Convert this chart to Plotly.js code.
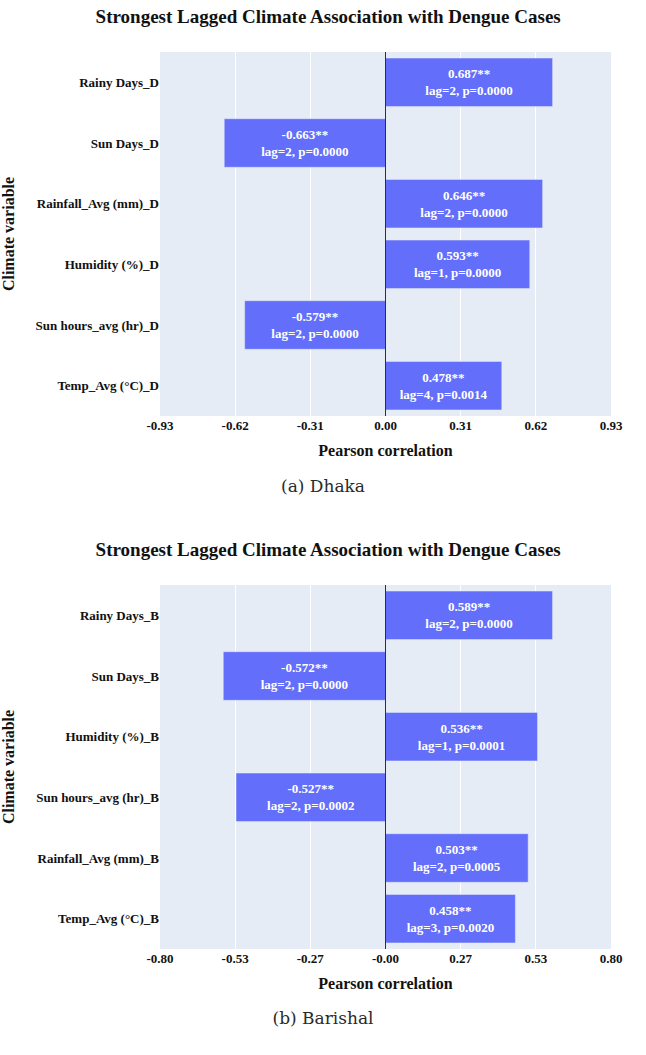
<!DOCTYPE html>
<html>
<head>
<meta charset="utf-8">
<script src="https://cdn.plot.ly/plotly-3.0.1.min.js"></script>
<style>
  html, body { margin: 0; padding: 0; background: #fff; width: 646px; height: 1055px; overflow: hidden; }
  .panel { position: absolute; left: 0; width: 646px; height: 470px; }
  .caption { position: absolute; left: 0; width: 646px; text-align: center;
             font-family: "DejaVu Serif", "Liberation Serif", serif; font-size: 17px; color: #2a2a2a; }
</style>
</head>
<body>
<div id="dhaka" class="panel" style="top:0px"></div>
<div class="caption" style="top:476px">(a) Dhaka</div>
<div id="barishal" class="panel" style="top:533px"></div>
<div class="caption" style="top:1008px">(b) Barishal</div>

<script>
// Dhaka: strongest lagged correlation per climate variable
const dhakaVars = ["Rainy Days_D", "Sun Days_D", "Rainfall_Avg (mm)_D", "Humidity (%)_D", "Sun hours_avg (hr)_D", "Temp_Avg (°C)_D"];
const dhakaR    = [0.687, -0.663, 0.646, 0.593, -0.579, 0.478];
const dhakaLag  = [2, 2, 2, 1, 2, 4];
const dhakaP    = [0.0000, 0.0000, 0.0000, 0.0000, 0.0000, 0.0014];
const dhakaTickVals = [-0.927, -0.618, -0.309, 0, 0.309, 0.618, 0.927];
const dhakaTickText = ["-0.93", "-0.62", "-0.31", "0.00", "0.31", "0.62", "0.93"];

// Barishal: strongest lagged correlation per climate variable
const barishalVars = ["Rainy Days_B", "Sun Days_B", "Humidity (%)_B", "Sun hours_avg (hr)_B", "Rainfall_Avg (mm)_B", "Temp_Avg (°C)_B"];
const barishalR    = [0.589, -0.572, 0.536, -0.527, 0.503, 0.458];
const barishalLag  = [2, 2, 1, 2, 2, 3];
const barishalP    = [0.0000, 0.0000, 0.0001, 0.0002, 0.0005, 0.0020];
const barishalTickVals = [-0.795, -0.530, -0.265, 0, 0.265, 0.530, 0.795];
const barishalTickText = ["-0.80", "-0.53", "-0.27", "-0.00", "0.27", "0.53", "0.80"];

const SERIF = "Liberation Serif, Times New Roman, serif";

function stars(p) { return p < 0.01 ? "**" : (p < 0.05 ? "*" : ""); }

function drawPanel(id, vars, r, lag, p, tickVals, tickText) {
  const labels = r.map((v, i) => v.toFixed(3) + stars(p[i]) + "<br>lag=" + lag[i] + ", p=" + p[i].toFixed(4));
  const range = [tickVals[0], tickVals[tickVals.length - 1]];
  const trace = {
    type: "bar",
    orientation: "h",
    x: r,
    y: vars,
    text: labels,
    textposition: "inside",
    insidetextanchor: "middle",
    textangle: 0,
    textfont: { family: SERIF, size: 13, color: "#ffffff", weight: "bold" },
    marker: { color: "#636efa", line: { color: "#E5ECF6", width: 0.5 } },
    hoverinfo: "skip"
  };
  const layout = {
    width: 646,
    height: 470,
    margin: { l: 160, r: 35, t: 52, b: 54 },
    paper_bgcolor: "#ffffff",
    plot_bgcolor: "#E5ECF6",
    font: { family: SERIF, color: "#111", weight: "bold" },
    showlegend: false,
    bargap: 0.2,
    title: {
      text: "Strongest Lagged Climate Association with Dengue Cases",
      font: { family: SERIF, size: 19, color: "#111", weight: "bold" },
      x: 0.508, xanchor: "center", xref: "container",
      y: 1 - 16 / 470, yanchor: "middle", yref: "container"
    },
    xaxis: {
      range: range,
      tickmode: "array",
      tickvals: tickVals,
      ticktext: tickText,
      showgrid: true,
      gridcolor: "#ffffff",
      gridwidth: 1,
      zeroline: false,
      ticks: "",
      tickfont: { family: SERIF, size: 13, color: "#111", weight: "bold" },
      title: { text: "Pearson correlation", font: { family: SERIF, size: 16, color: "#111", weight: "bold" }, standoff: 12 }
    },
    yaxis: {
      autorange: "reversed",
      showgrid: false,
      zeroline: false,
      ticks: "",
      tickfont: { family: SERIF, size: 13, color: "#111", weight: "bold" },
      title: { text: "Climate variable", font: { family: SERIF, size: 16, color: "#111", weight: "bold" }, standoff: 18 }
    },
    shapes: [{
      type: "line", xref: "x", yref: "paper",
      x0: 0, x1: 0, y0: 0, y1: 1,
      line: { color: "#2f2f3a", width: 1 }
    }]
  };
  Plotly.newPlot(id, [trace], layout, { displayModeBar: false, staticPlot: true });
}

drawPanel("dhaka", dhakaVars, dhakaR, dhakaLag, dhakaP, dhakaTickVals, dhakaTickText);
drawPanel("barishal", barishalVars, barishalR, barishalLag, barishalP, barishalTickVals, barishalTickText);
</script>
</body>
</html>
